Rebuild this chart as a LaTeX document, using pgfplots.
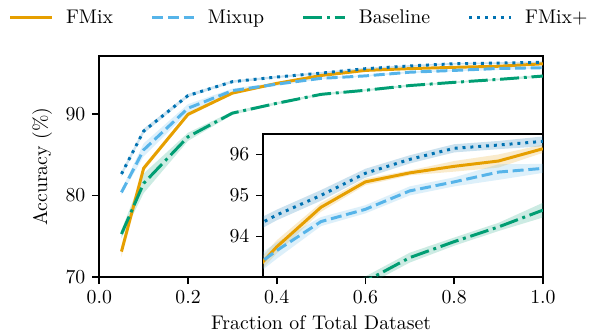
\documentclass[border=0pt]{standalone}
\usepackage{pgfplots}
\usepackage{pgfplotstable}
\pgfplotsset{compat=1.18}
\usepgfplotslibrary{fillbetween}
\definecolor{cfmix}{HTML}{E69F00}
\definecolor{cmixup}{HTML}{56B4E9}
\definecolor{cbase}{HTML}{009E73}
\definecolor{cplus}{HTML}{0072B2}

\pgfplotstableread{
x    m      lo     hi
0.05 73.15  72.5   73.8
0.1  83.35  83.0   83.7
0.2  89.95  89.7   90.2
0.3  92.55  92.4   92.7
0.4  93.74  93.58  93.9
0.5  94.71  94.6   94.82
0.6  95.33  95.25  95.41
0.7  95.55  95.49  95.61
0.8  95.71  95.58  95.84
0.9  95.84  95.68  96.0
1.0  96.14  96.04  96.24
}\fmix
\pgfplotstableread{
x    m      lo     hi
0.05 80.4   80.1   80.7
0.1  85.6   84.8   86.4
0.2  90.7   90.2   91.2
0.3  92.85  92.6   93.1
0.4  93.65  93.45  93.85
0.5  94.36  94.25  94.47
0.6  94.66  94.56  94.76
0.7  95.11  95.0   95.22
0.8  95.33  95.22  95.44
0.9  95.57  95.38  95.76
1.0  95.66  95.55  95.77
}\mixup
\pgfplotstableread{
x    m      lo     hi
0.05 75.3   74.8   75.8
0.1  81.5   80.3   82.7
0.2  87.2   86.7   87.7
0.3  90.1   89.9   90.3
0.4  91.3   91.15  91.45
0.5  92.4   92.27  92.53
0.6  92.9   92.78  93.02
0.7  93.48  93.36  93.6
0.8  93.87  93.77  93.97
0.9  94.23  94.13  94.33
1.0  94.64  94.46  94.82
}\base
\pgfplotstableread{
x    m      lo     hi
0.05 82.65  82.35  82.95
0.1  87.9   87.6   88.2
0.2  92.25  92.05  92.45
0.3  93.95  93.8   94.1
0.4  94.52  94.39  94.65
0.5  95.0   94.87  95.13
0.6  95.54  95.43  95.65
0.7  95.88  95.78  95.98
0.8  96.15  96.05  96.25
0.9  96.23  96.13  96.33
1.0  96.32  96.2   96.44
}\plus

\pgfplotsset{
  mystyle/.style={
    scale only axis,
    axis line style={line width=0.8pt},
    tick style={line width=0.8pt, black},
    tick align=outside,
    major tick length=3.5pt,
    xtick pos=bottom, ytick pos=left,
  },
  lfmix/.style={cfmix, line width=1.5pt},
  lmixup/.style={cmixup, line width=1.5pt, dash pattern=on 5.55pt off 2.4pt},
  lbase/.style={cbase, line width=1.5pt, dash pattern=on 9.6pt off 2.4pt on 1.5pt off 2.4pt},
  lplus/.style={cplus, line width=1.5pt, dash pattern=on 1.5pt off 2.475pt},
}
\newcommand{\band}[3]{%
  \addplot[draw=none, name path=#2u, forget plot] table[x=x,y=hi]{#1};
  \addplot[draw=none, name path=#2l, forget plot] table[x=x,y=lo]{#1};
  \addplot[#3, fill opacity=0.2, draw=none, forget plot] fill between[of=#2u and #2l];
}

\begin{document}
\begin{tikzpicture}
\begin{axis}[mystyle,
  width=224.3pt, height=111.9pt,
  xmin=0, xmax=1, ymin=70, ymax=97.1,
  xtick={0,0.2,0.4,0.6,0.8,1.0},
  xticklabel style={/pgf/number format/.cd, fixed, fixed zerofill, precision=1},
  ytick={70,80,90},
  xlabel={Fraction of Total Dataset},
  ylabel={Accuracy (\%)},
  xlabel style={yshift=1pt},
  ylabel style={yshift=0pt},
  legend columns=4,
  legend style={draw=none, fill=none, at={(-0.2051,1.1725)}, anchor=west, inner xsep=0pt, inner ysep=0pt,
    nodes={inner xsep=0pt},
    /tikz/every even column/.append style={column sep=19pt},
    /tikz/every odd column/.append style={column sep=6.3pt}},
  legend image code/.code={\draw[#1] (0pt,0pt) -- (21.2pt,0pt);},
]
\band{\fmix}{af}{cfmix}
\addplot[lfmix] table[x=x,y=m]{\fmix};
\addlegendentry{FMix}
\band{\mixup}{am}{cmixup}
\addplot[lmixup] table[x=x,y=m]{\mixup};
\addlegendentry{Mixup}
\band{\base}{ab}{cbase}
\addplot[lbase] table[x=x,y=m]{\base};
\addlegendentry{Baseline}
\band{\plus}{ap}{cplus}
\addplot[lplus] table[x=x,y=m]{\plus};
\addlegendentry{FMix+}
\end{axis}

\begin{axis}[mystyle,
  at={(82.9pt,0pt)}, anchor=south west,
  width=141.4pt, height=72.45pt,
  xmin=0.37, xmax=1, ymin=93, ymax=96.5,
  axis background/.style={fill=white},
  xtick={0.4,0.6,0.8,1.0}, xticklabels={},
  ytick={94,95,96},
]
\band{\fmix}{bf}{cfmix}
\addplot[lfmix] table[x=x,y=m]{\fmix};
\band{\mixup}{bm}{cmixup}
\addplot[lmixup] table[x=x,y=m]{\mixup};
\band{\base}{bb}{cbase}
\addplot[lbase] table[x=x,y=m]{\base};
\band{\plus}{bp}{cplus}
\addplot[lplus] table[x=x,y=m]{\plus};
\end{axis}
\pgfresetboundingbox
\path (-50.2pt,-27.66pt) rectangle (247.6pt,140.2pt);
\end{tikzpicture}
\end{document}
